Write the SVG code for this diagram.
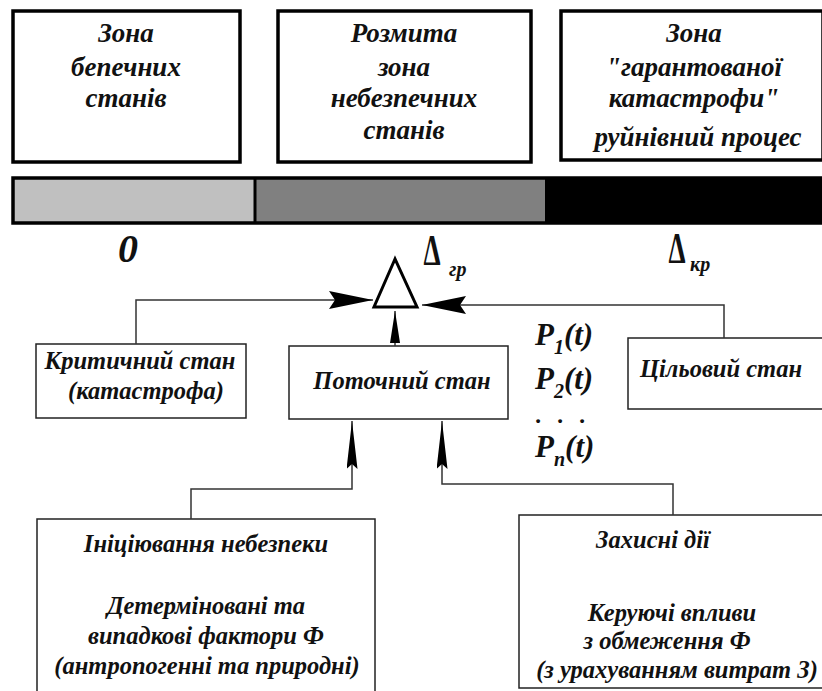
<svg xmlns="http://www.w3.org/2000/svg" width="822" height="691" viewBox="0 0 822 691">
<style>
text{font-family:"Liberation Serif","DejaVu Serif",serif;font-style:italic;font-weight:bold;fill:#111;}
.zone{fill:#fff;stroke:#000;stroke-width:3.5;}
.box{fill:#fff;stroke:#222;stroke-width:1.5;}
.zt{font-size:27px;text-anchor:middle;}
.bt{font-size:24.5px;text-anchor:middle;}
.conn{fill:none;stroke:#333;stroke-width:1.5;}
.p{font-size:31px;}
.sub{font-size:20px;}
.delta{font-size:44px;font-style:normal;text-anchor:middle;}
</style>
<defs>
<marker id="ah" viewBox="0 0 44 18" refX="44" refY="9" markerWidth="44" markerHeight="18" markerUnits="userSpaceOnUse" orient="auto">
<path d="M0,0 L44,9 L0,18 L6,9 z" fill="#000"/>
</marker>
<marker id="al" viewBox="0 0 48 11" refX="48" refY="5.5" markerWidth="48" markerHeight="11" markerUnits="userSpaceOnUse" orient="auto">
<path d="M0,0 L48,5.5 L0,11 L5,5.5 z" fill="#000"/>
</marker>
<marker id="as" viewBox="0 0 32 10" refX="32" refY="5" markerWidth="32" markerHeight="10" markerUnits="userSpaceOnUse" orient="auto">
<path d="M0,0 L32,5 L0,10 z" fill="#000"/>
</marker>
</defs>
<rect width="822" height="691" fill="#fff"/>

<g id="zone-safe">
<rect class="zone" x="13" y="11" width="227" height="151"/>
<text class="zt" x="126" y="42">Зона</text>
<text class="zt" x="126" y="76">бепечних</text>
<text class="zt" x="126" y="107">станів</text>
</g>
<g id="zone-fuzzy">
<rect class="zone" x="278" y="11" width="253" height="151"/>
<text class="zt" x="404" y="42">Розмита</text>
<text class="zt" x="404" y="76">зона</text>
<text class="zt" x="404" y="107">небезпечних</text>
<text class="zt" x="404" y="139">станів</text>
</g>
<g id="zone-catastrophe">
<rect class="zone" x="561" y="11" width="262" height="149"/>
<text class="zt" x="694" y="42">Зона</text>
<text class="zt" x="694" y="76">"гарантованої</text>
<text class="zt" x="694" y="107">катастрофи"</text>
<text class="zt" x="698" y="146">руйнівний процес</text>
</g>

<g id="scale-bar">
<rect x="13" y="178" width="242" height="45" fill="#c0c0c0"/>
<rect x="255" y="178" width="290" height="45" fill="#808080"/>
<rect x="545" y="178" width="280" height="45" fill="#000"/>
<rect x="13" y="178" width="812" height="45" fill="none" stroke="#000" stroke-width="3.5"/>
<line x1="255" y1="178" x2="255" y2="223" stroke="#000" stroke-width="3"/>
<text x="118" y="262" style="font-size:40px">0</text>
<text class="delta" transform="translate(432,265) scale(0.62,1)">Δ</text>
<text x="449" y="276" class="sub">гр</text>
<text class="delta" transform="translate(677,263) scale(0.62,1)">Δ</text>
<text x="690" y="271" class="sub">кр</text>
</g>

<g id="comparator">
<polygon points="395,259 374,307 417,307" fill="#fff" stroke="#000" stroke-width="3"/>
</g>

<g id="critical-state">
<rect class="box" x="36" y="344" width="210" height="74"/>
<text class="bt" x="140" y="369">Критичний стан</text>
<text class="bt" x="146" y="399">(катастрофа)</text>
</g>
<g id="current-state">
<rect class="box" x="289" y="346" width="219" height="73"/>
<text class="bt" x="402" y="389">Поточний стан</text>
</g>
<g id="target-state">
<rect class="box" x="628" y="338" width="200" height="71"/>
<text class="bt" x="721" y="377">Цільовий стан</text>
</g>

<g id="probabilities">
<text class="p" x="535" y="345">P<tspan class="sub" dy="9">1</tspan><tspan dy="-9">(t)</tspan></text>
<text class="p" x="535" y="389">P<tspan class="sub" dy="9">2</tspan><tspan dy="-9">(t)</tspan></text>
<text class="p" x="536 558 580" y="423" style="font-size:24px">...</text>
<text class="p" x="535" y="457">P<tspan class="sub" dy="9">n</tspan><tspan dy="-9">(t)</tspan></text>
</g>

<g id="hazard-initiation">
<rect class="box" x="37" y="519" width="338" height="190"/>
<text class="bt" x="206" y="552">Ініціювання небезпеки</text>
<text class="bt" x="206" y="614">Детерміновані та</text>
<text class="bt" x="206" y="644">випадкові фактори Ф</text>
<text class="bt" x="207" y="674">(антропогенні та природні)</text>
</g>
<g id="protective-actions">
<rect class="box" x="519" y="515" width="310" height="173"/>
<text class="bt" x="653" y="548">Захисні дії</text>
<text class="bt" x="672" y="621">Керуючі впливи</text>
<text class="bt" x="667" y="649">з обмеження Ф</text>
<text class="bt" x="677" y="678">(з урахуванням витрат З)</text>
</g>

<g id="connectors">
<polyline class="conn" points="136,344 136,300 373,300" marker-end="url(#ah)"/>
<polyline class="conn" points="724,338 724,305 422,305" marker-end="url(#ah)"/>
<line class="conn" x1="395" y1="346" x2="395" y2="311" marker-end="url(#as)"/>
<polyline class="conn" points="191,519 191,489 352,489 352,421" marker-end="url(#al)"/>
<polyline class="conn" points="673,515 673,484 442,484 442,421" marker-end="url(#al)"/>
</g>
</svg>
